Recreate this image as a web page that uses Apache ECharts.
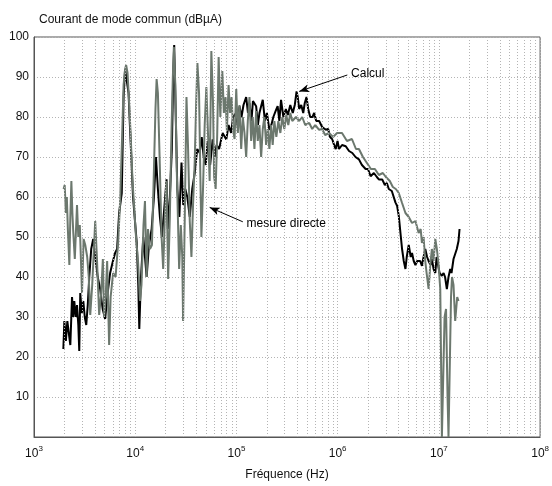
<!DOCTYPE html>
<html>
<head>
<meta charset="utf-8">
<script src="https://cdn.jsdelivr.net/npm/echarts@6/dist/echarts.min.js"></script>
<style>
  html, body { margin: 0; padding: 0; background: #fff; }
  #chart { width: 552px; height: 486px; }
</style>
</head>
<body>
<div id="chart"></div>
<script>
// fréquences (Hz) / niveaux (dBµA)
var freqCalcul = [1950,1995,2065,2135,2207,2285,2375,2445,2500,2588,2660,2740,2800,2865,2965,3070,3173,3282,3397,3515,3675,3845,4025,4260,4505,4767,5045,5342,5652,5983,6329,6623,6934,7365,7675,7945,8206,8592,8894,9512,10350,10720,10970,11400,12020,12480,12970,13670,14530,15310,16030,16750,17530,18350,19200,20400,21000,21980,23010,23820,24270,24910,26060,27290,28660,29840,31250,32690,34580,36590,38710,41000,43380,45410,47480,49700,52000,55000,58200,60900,63700,67400,73000,79400,83600,88500,92600,99600,103700,107200,112200,117400,124800,130000,134500,140700,145600,156500,163000,168700,182000,191100,199900,211500,221300,231500,246300,255300,265400,275800,290700,307400,321700,340400,360300,377000,392600,403400,417000,436500,457000,473000,492400,511600,535400,564200,585900,613600,656400,702700,764000,805400,841800,886500,921800,957100,997000,1032000,1105000,1202000,1295000,1396000,1501000,1622000,1737000,1889000,1991000,2115000,2279000,2439000,2553000,2754000,2925000,3062000,3200000,3427000,3586000,3727000,3864000,4016000,4173000,4328000,4498000,4674000,4812000,5038000,5268000,5428000,5641000,5864000,6106000,6318000,6538000,6800000,7058000,7337000,7649000,7915000,8285000,8525000,8863000,9217000,9490000,9822000,10160000,10710000,11130000,11510000,11990000,12450000,12940000,13330000,13950000,14590000,15030000,15630000,16000000]
var calcul = [22,29,24,29,26,23,35,30,34,30,33,28,21.5,36,31,34,30,28,33,40,47,49.5,45,40,37,32,29.5,36,41,43.7,46,47,56,61,85,92,92,86,77,60,48.6,38,27,40,50,45,40,48,52,60,70,62,55,50,56,64.4,52,60,72,92,98,85,62,55,68.6,58,62,60,55,62,66,72,71,75,70,68,74,68,74.4,70,73,72,76,74.4,78,76,80,81,77,82.7,80,83,85,81,83.5,79,84,82.7,78,81,84.3,79,81,76.8,78,80,81.8,82.7,79,84.3,80,82,80.5,83,81,83,86.4,85,82,83,81,83.5,85,82,80,80,81,79,79,77.5,76.8,77,75,74.4,73,72,74,72,73,72.7,71.5,71,70,69.4,68,67,67,65.2,66,65,64.4,64.4,63,63.5,62,61.5,61,58.6,57.8,55.3,51,47,44,42,45,48,45,46,44,43,44,43.5,44,42.8,45,47,45,44,43,44.5,42,41,45,43,41,40.3,41,40,37,40,42,41,44.5,45,47,49,52]

var freqMesure = [1960,2010,2065,2110,2160,2235,2285,2340,2395,2445,2530,2660,2740,2835,2980,3090,3210,3355,3475,3595,3760,4025,4180,4405,4610,4790,4935,5105,5280,5525,5715,6050,6400,6775,7095,7420,7675,7945,8130,8400,8690,8995,9405,9730,10180,10660,11150,11530,12070,12480,12970,13360,13990,14630,15310,15850,16270,16750,17530,18220,18890,19630,20400,21150,21980,22840,23530,24080,24910,25770,27160,28210,29170,29710,30880,32090,33290,34580,35930,37260,38710,40050,41170,42710,44030,45060,46750,48570,50440,52330,54380,56500,58620,60230,62330,64490,66720,69310,72500,75150,78110,80500,83630,86510,89560,92630,95820,99560,103300,107200,111400,115600,120100,124800,129500,134500,139800,144900,150600,156500,162400,168700,175400,182000,188900,196400,203800,211500,219800,228100,237000,247900,259400,271600,284000,297100,310900,325300,340400,356200,387400,417000,446500,477700,523400,560300,599400,656400,702700,751900,822900,901000,986500,1104000,1236000,1384000,1516000,1622000,1777000,1946000,2130000,2333000,2553000,2795000,2994000,3275000,3508000,3752000,4016000,4328000,4674000,5038000,5428000,5864000,6314000,6607000,6800000,7058000,7337000,7562000,7915000,8222000,8525000,8863000,9217000,9553000,9932000,10320000,10710000,10990000,11380000,11770000,12180000,12450000,12740000,13180000,13480000,13950000,14490000,15170000,15630000]
var mesure = [62,63,56,60,52,43,55,64,56,51,44.5,58,50,53,36,49.5,48,45,40,30.5,38,54,45,30.5,36,44.5,30,35,44,23,35,41,40,48.5,59,75,88,92,93,91,84,76,64,58,50,44,34,38,53,59,40,52,47,48,67,82,89.5,86,67,50,42,55,64,39.5,55,77,90,97.5,88,66,42,53,45,29,55,85,72,54,45,58,69,84,93.5,86,65,50,62,78,87.5,76,64,96.5,84,65,62,75,95,80,91.5,81,85,76.5,88,81,85,77,74.5,87,76,83,72,80,76,70,79,85,74,80,72,81.5,74,78,70,77,80,73,77,72,78,73,79,75,79,76,80,77,80.5,78,81,79,80,79,80,78,78.5,77,78,76.8,77,75.5,76,75,76,76,74,74.5,72,72,70,68.5,67,67,65.5,66,65,64,62.5,62,61,58.5,56,55,53.5,54,51,52,48.5,50,44,41,37,43,47,44,49.5,47,43,37,0,0,30,32,10,0,0,35,40,38,29,35,34]

// annotations : [pointe de la flèche, départ du texte]
var flecheCalcul = [[417000, 86.4], [1245000, 90.5]]
var flecheMesure = [[54400, 57.4], [115600, 53.8]]

var minorFreqs = []
for (var k = 3; k < 8; k++) {
  for (var m = 2; m < 10; m++) minorFreqs.push(m * Math.pow(10, k))
}

var font = 'Liberation Sans, Arial, sans-serif'
var gridColor = '#b4b4b4'

var myChart = echarts.init(document.getElementById('chart'))
var option = {
  animation: false,
  backgroundColor: '#fff',
  textStyle: { fontFamily: font },
  title: {
    text: 'Courant de mode commun (dBµA)',
    left: 34,
    top: 9,
    textStyle: { fontSize: 12, fontWeight: 'normal', color: '#111', fontFamily: font }
  },
  grid: {
    left: 34,
    right: 10,
    top: 37,
    bottom: 47,
    show: true,
    borderColor: '#555',
    borderWidth: 1
  },
  xAxis: {
    type: 'log',
    logBase: 10,
    min: 1000,
    max: 100000000,
    name: 'Fréquence (Hz)',
    nameLocation: 'middle',
    nameGap: 32,
    nameTextStyle: { fontSize: 12, color: '#111' },
    axisLine: { lineStyle: { color: '#555' } },
    axisTick: { show: false },
    axisLabel: {
      margin: 8,
      color: '#111',
      formatter: function (v) {
        return '{b|10}{e|' + Math.round(Math.log10(v)) + '}'
      },
      rich: {
        b: { fontSize: 12, color: '#111' },
        e: { fontSize: 8, color: '#111', padding: [0, 0, 9, 0] }
      }
    },
    splitLine: { show: true, lineStyle: { type: [1, 2], color: gridColor } }
  },
  yAxis: {
    type: 'value',
    min: 0,
    max: 100,
    interval: 10,
    axisLine: { show: true, lineStyle: { color: '#555' } },
    axisTick: { show: false },
    axisLabel: {
      fontSize: 12,
      color: '#111',
      margin: 5,
      formatter: function (v) { return v === 0 ? '' : v }
    },
    splitLine: { show: true, lineStyle: { type: [1, 2], color: gridColor } }
  },
  series: [
    {
      // grille secondaire (2..9 par décade)
      type: 'line',
      data: [],
      silent: true,
      z: 1,
      markLine: {
        silent: true,
        symbol: 'none',
        label: { show: false },
        lineStyle: { type: [1, 2], color: gridColor, width: 1 },
        data: minorFreqs.map(function (f) { return { xAxis: f } })
      }
    },
    {
      name: 'Calcul',
      type: 'line',
      data: freqCalcul.map(function (f, i) { return [f, calcul[i]] }),
      showSymbol: false,
      lineStyle: { color: '#000', width: 2 },
      z: 3
    },
    {
      name: 'mesure directe',
      type: 'line',
      data: freqMesure.map(function (f, i) { return [f, mesure[i]] }),
      showSymbol: false,
      lineStyle: { color: '#6c786e', width: 2 },
      z: 4
    },
    {
      type: 'line',
      data: [],
      silent: true,
      z: 6,
      markLine: {
        silent: true,
        symbol: ['arrow', 'none'],
        symbolSize: [6, 10],
        lineStyle: { color: '#000', width: 1, type: 'solid' },
        label: { show: true, position: 'end', formatter: '{b}', color: '#000', fontSize: 12, distance: 4 },
        data: [
          [{ name: 'Calcul', coord: flecheCalcul[0] }, { coord: flecheCalcul[1] }],
          [{ name: 'mesure directe', coord: flecheMesure[0] }, { coord: flecheMesure[1] }]
        ]
      }
    }
  ]
}
myChart.setOption(option)
</script>
</body>
</html>
